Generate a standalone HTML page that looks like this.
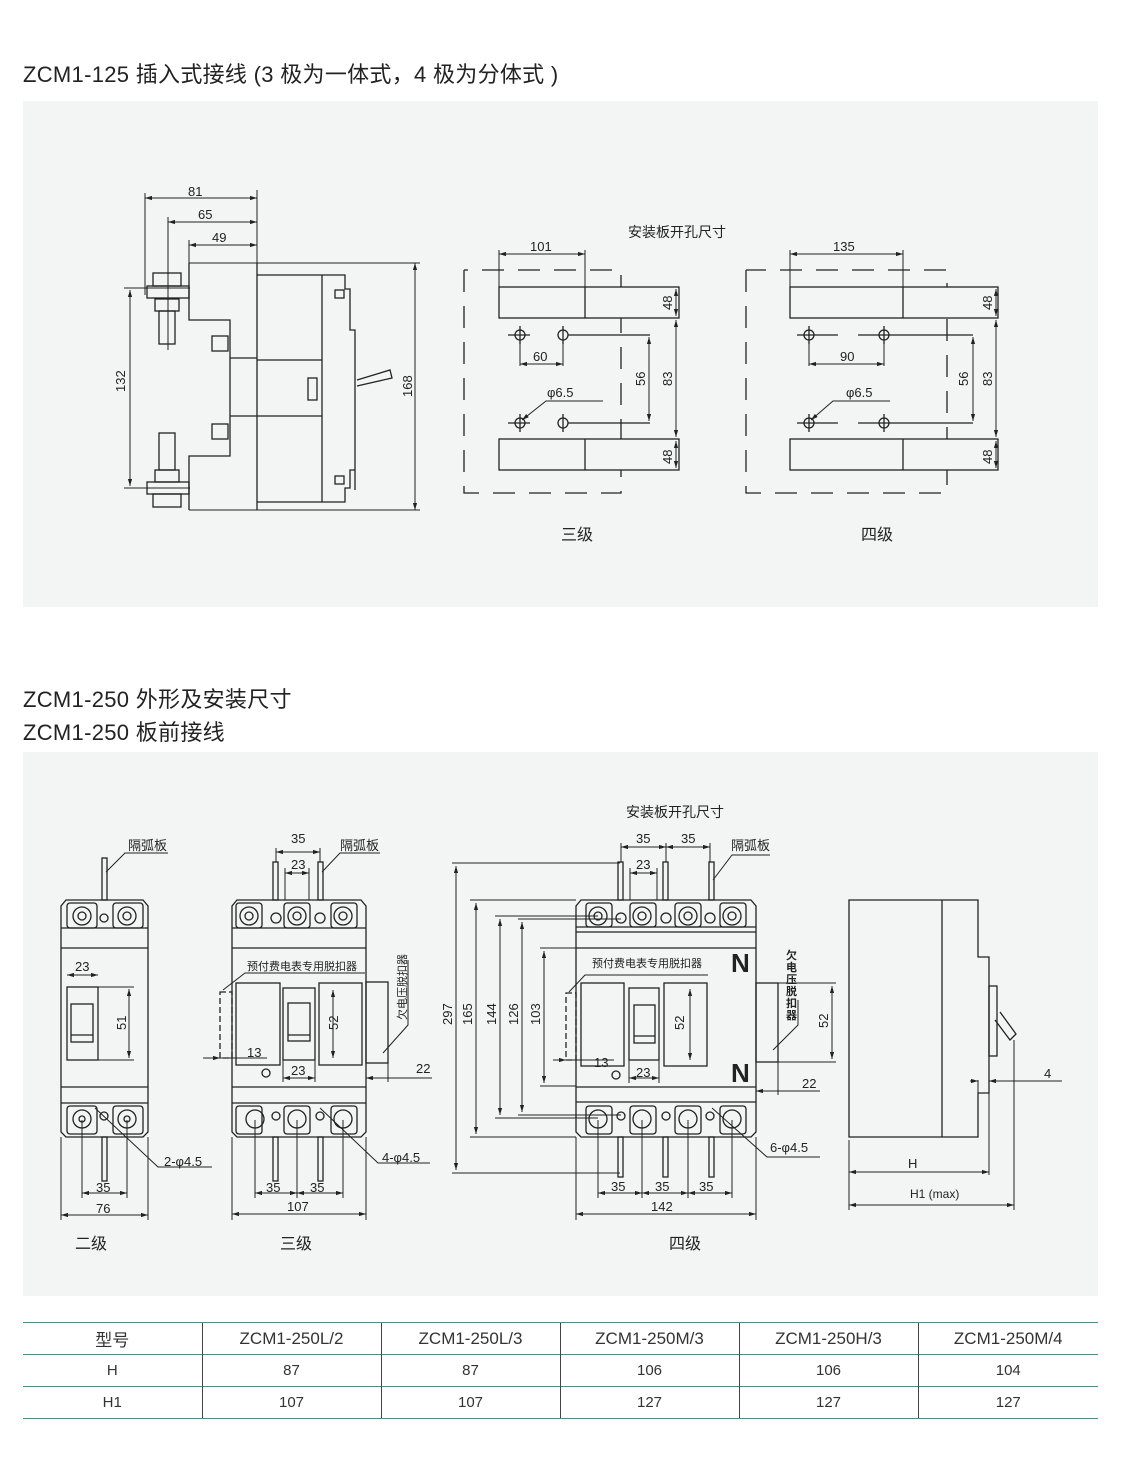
<!DOCTYPE html>
<html><head><meta charset="utf-8"><style>
html,body{margin:0;padding:0;background:#fff;}
body{width:1121px;height:1471px;position:relative;overflow:hidden;font-family:"Liberation Sans","Noto Sans CJK SC",sans-serif;color:#222;}
.h{position:absolute;left:23px;font-size:22px;letter-spacing:0.3px;color:#222;white-space:nowrap;}
.panel{position:absolute;left:23px;width:1075px;background:#f3f4f4;}
table{position:absolute;left:23px;top:1322px;width:1075px;border-collapse:collapse;table-layout:fixed;font-size:15px;color:#333;}
td{height:31px;text-align:center;border-top:1.5px solid #2a9d8f;border-left:1px solid #444;padding:0;}
td:first-child{border-left:none;}
tr:last-child td{border-bottom:1.5px solid #2a9d8f;}
tr:first-child td{font-size:17px;}
</style></head><body>
<div class="h" style="top:57px">ZCM1-125 插入式接线 (3 极为一体式，4 极为分体式 )</div>
<div class="panel" style="top:101px;height:506px"></div>
<div class="h" style="top:682px">ZCM1-250 外形及安装尺寸</div>
<div class="h" style="top:715px">ZCM1-250 板前接线</div>
<div class="panel" style="top:752px;height:544px"></div>
<svg width="1121" height="1471" style="position:absolute;left:0;top:0" font-family="Liberation Sans, Noto Sans CJK SC, sans-serif" font-size="13" fill="none" stroke="#222" stroke-width="1.3">
<defs><marker id="a" viewBox="0 0 10 10" refX="10" refY="5" markerWidth="7" markerHeight="7" orient="auto-start-reverse"><path d="M0,2 L10,5 L0,8z" fill="#222" stroke="none"/></marker></defs>
<g stroke-width="1">
<line x1="145" y1="193" x2="145" y2="295"/><line x1="168" y1="217" x2="168" y2="350"/><line x1="189" y1="240" x2="189" y2="263"/><line x1="257" y1="190" x2="257" y2="263"/>
<line x1="145" y1="198" x2="257" y2="198" marker-start="url(#a)" marker-end="url(#a)"/>
<line x1="168" y1="222" x2="257" y2="222" marker-start="url(#a)" marker-end="url(#a)"/>
<line x1="189" y1="245" x2="257" y2="245" marker-start="url(#a)" marker-end="url(#a)"/>
<line x1="189" y1="263" x2="420" y2="263"/><line x1="189" y1="510" x2="420" y2="510"/>
<line x1="415" y1="263" x2="415" y2="510" marker-start="url(#a)" marker-end="url(#a)"/>
<line x1="124" y1="288" x2="190" y2="288"/><line x1="124" y1="488" x2="190" y2="488"/>
<line x1="130" y1="290" x2="130" y2="486" marker-start="url(#a)" marker-end="url(#a)"/>
</g>
<path d="M189,263 V320 H230 V456 H189 V510 M257,263 V510 M230,358 H257 M230,416 H257 M257,275 H345 V289 H350 V330 H355 V470 H350 V488 H345 V502 H257 M322,275 V502 M257,360 H322 M257,416 H322 M355,330 V490 M357,380 L390,370 L392,378 L357,386"/>
<rect x="147" y="286" width="42" height="12"/><rect x="153" y="273" width="28" height="13"/><rect x="155" y="299" width="24" height="12"/><rect x="159" y="311" width="16" height="33"/>
<rect x="147" y="482" width="42" height="12"/><rect x="153" y="494" width="28" height="13"/><rect x="155" y="470" width="24" height="12"/><rect x="159" y="433" width="16" height="37"/>
<rect x="212" y="336" width="16" height="15"/><rect x="212" y="424" width="16" height="15"/>
<rect x="335" y="290" width="9" height="8"/><rect x="335" y="476" width="9" height="8"/><rect x="308" y="378" width="9" height="22"/>
<g fill="#222" stroke="none" font-size="13"><text x="188" y="196">81</text><text x="198" y="219">65</text><text x="212" y="242">49</text>
<text transform="translate(125,392) rotate(-90)">132</text><text transform="translate(412,397) rotate(-90)">168</text></g>
<g stroke-dasharray="22,14">
<path d="M464,270 V493 H621 V270 H464"/><path d="M746,270 V493 H947 V270 H746"/>
</g>
<rect x="499" y="287" width="180" height="31" fill="#f3f4f4"/><line x1="585" y1="287" x2="585" y2="318"/>
<rect x="499" y="439" width="180" height="31" fill="#f3f4f4"/><line x1="585" y1="439" x2="585" y2="470"/>
<rect x="790" y="287" width="208" height="31" fill="#f3f4f4"/><line x1="903" y1="287" x2="903" y2="318"/>
<rect x="790" y="439" width="208" height="31" fill="#f3f4f4"/><line x1="903" y1="439" x2="903" y2="470"/>
<g stroke-width="1">
<line x1="499" y1="250" x2="499" y2="287"/><line x1="585" y1="250" x2="585" y2="287"/>
<line x1="499" y1="254" x2="585" y2="254" marker-start="url(#a)" marker-end="url(#a)"/>
<line x1="790" y1="250" x2="790" y2="287"/><line x1="903" y1="250" x2="903" y2="287"/>
<line x1="790" y1="254" x2="903" y2="254" marker-start="url(#a)" marker-end="url(#a)"/>
<line x1="676" y1="289" x2="676" y2="316" marker-start="url(#a)" marker-end="url(#a)"/>
<line x1="676" y1="320" x2="676" y2="437" marker-start="url(#a)" marker-end="url(#a)"/>
<line x1="676" y1="441" x2="676" y2="468" marker-start="url(#a)" marker-end="url(#a)"/>
<line x1="996" y1="289" x2="996" y2="316" marker-start="url(#a)" marker-end="url(#a)"/>
<line x1="996" y1="320" x2="996" y2="437" marker-start="url(#a)" marker-end="url(#a)"/>
<line x1="996" y1="441" x2="996" y2="468" marker-start="url(#a)" marker-end="url(#a)"/>
<line x1="649" y1="337" x2="649" y2="421" marker-start="url(#a)" marker-end="url(#a)"/>
<line x1="973" y1="337" x2="973" y2="421" marker-start="url(#a)" marker-end="url(#a)"/>
<line x1="520" y1="341" x2="520" y2="366"/><line x1="563" y1="341" x2="563" y2="366"/>
<line x1="520" y1="364" x2="563" y2="364" marker-start="url(#a)" marker-end="url(#a)"/>
<line x1="809" y1="341" x2="809" y2="366"/><line x1="884" y1="341" x2="884" y2="366"/>
<line x1="809" y1="364" x2="884" y2="364" marker-start="url(#a)" marker-end="url(#a)"/>
<path d="M603,401 H546 L522,420" marker-end="url(#a)"/><path d="M890,401 H833 L811,420" marker-end="url(#a)"/>
</g>
<g>
<circle cx="520" cy="335" r="5"/><circle cx="563" cy="335" r="5"/><circle cx="520" cy="423" r="5"/><circle cx="563" cy="423" r="5"/>
<path d="M508,335 H530 M520,326 V344 M563,326 V344 M568,335 H650 M508,423 H530 M520,414 V432 M563,414 V432 M568,423 H650"/>
<circle cx="809" cy="335" r="5"/><circle cx="884" cy="335" r="5"/><circle cx="809" cy="423" r="5"/><circle cx="884" cy="423" r="5"/>
<path d="M797,335 H838 M809,326 V344 M858,335 H896 M884,326 V344 M889,335 H973 M797,423 H838 M809,414 V432 M858,423 H896 M884,414 V432 M889,423 H973"/>
</g>
<g fill="#222" stroke="none" font-size="13">
<text x="628" y="237" font-size="14">安装板开孔尺寸</text>
<text x="530" y="251">101</text><text x="833" y="251">135</text>
<text x="533" y="361">60</text><text x="840" y="361">90</text>
<text x="547" y="397">φ6.5</text><text x="846" y="397">φ6.5</text>
<text transform="translate(672,310) rotate(-90)">48</text><text transform="translate(672,386) rotate(-90)">83</text><text transform="translate(672,464) rotate(-90)">48</text>
<text transform="translate(645,386) rotate(-90)">56</text>
<text transform="translate(992,310) rotate(-90)">48</text><text transform="translate(992,386) rotate(-90)">83</text><text transform="translate(992,464) rotate(-90)">48</text>
<text transform="translate(968,386) rotate(-90)">56</text>
<text x="561" y="540" font-size="16">三级</text><text x="861" y="540" font-size="16">四级</text>
</g>

<path d="M66,900 H143 L148,906 V1132 L143,1137 H66 L61,1132 V906 Z M61,928 H148 M61,948 H148 M61,1087 H148 M61,1103 H148"/>
<rect x="67" y="903" width="30" height="25" rx="3"/><rect x="113" y="903" width="30" height="25" rx="3"/>
<circle cx="82" cy="916" r="9"/><circle cx="82" cy="916" r="4"/><circle cx="127" cy="916" r="9"/><circle cx="127" cy="916" r="4"/><circle cx="104" cy="918" r="4"/>
<rect x="67" y="1106" width="30" height="28" rx="3"/><rect x="113" y="1106" width="30" height="28" rx="3"/>
<circle cx="82" cy="1119" r="9"/><circle cx="82" cy="1119" r="3"/><circle cx="127" cy="1119" r="9"/><circle cx="127" cy="1119" r="3"/><circle cx="104" cy="1116" r="4"/>
<rect x="67" y="987" width="31" height="73"/><rect x="71" y="1004" width="22" height="38"/><line x1="71" y1="1035" x2="93" y2="1035"/>
<rect x="102" y="858" width="5" height="42"/><rect x="102" y="1137" width="5" height="44"/>
<g stroke-width="1">
<line x1="67" y1="975" x2="98" y2="975" marker-start="url(#a)" marker-end="url(#a)"/>
<line x1="98" y1="987" x2="134" y2="987"/><line x1="98" y1="1060" x2="134" y2="1060"/>
<line x1="129" y1="989" x2="129" y2="1058" marker-start="url(#a)" marker-end="url(#a)"/>
<path d="M106,872 L125,853 H168"/><path d="M95,1108 L158,1167 H212"/>
<line x1="82" y1="1120" x2="82" y2="1198"/><line x1="127" y1="1120" x2="127" y2="1198"/>
<line x1="82" y1="1193" x2="127" y2="1193" marker-start="url(#a)" marker-end="url(#a)"/>
<line x1="61" y1="1137" x2="61" y2="1220"/><line x1="148" y1="1137" x2="148" y2="1220"/>
<line x1="61" y1="1215" x2="148" y2="1215" marker-start="url(#a)" marker-end="url(#a)"/>
</g>
<path d="M237,900 H361 L366,906 V1132 L361,1137 H237 L232,1132 V906 Z M232,928 H366 M232,948 H366 M232,1087 H366 M232,1103 H366"/>
<rect x="236" y="903" width="26" height="25" rx="3"/><rect x="284" y="903" width="26" height="25" rx="3"/><rect x="331" y="903" width="26" height="25" rx="3"/>
<circle cx="249" cy="916" r="9"/><circle cx="249" cy="916" r="4"/><circle cx="297" cy="916" r="9"/><circle cx="297" cy="916" r="4"/><circle cx="343" cy="916" r="9"/><circle cx="343" cy="916" r="4"/>
<circle cx="276" cy="918" r="5"/><circle cx="320" cy="918" r="5"/>
<rect x="236" y="1106" width="26" height="28" rx="3"/><rect x="284" y="1106" width="26" height="28" rx="3"/><rect x="331" y="1106" width="26" height="28" rx="3"/>
<circle cx="255" cy="1119" r="9"/><circle cx="297" cy="1119" r="9"/><circle cx="343" cy="1119" r="9"/><circle cx="276" cy="1116" r="4"/><circle cx="320" cy="1116" r="4"/>
<rect x="236" y="983" width="44" height="82"/><rect x="283" y="988" width="32" height="72"/><rect x="288" y="1003" width="22" height="38"/><line x1="288" y1="1035" x2="310" y2="1035"/>
<rect x="319" y="983" width="43" height="82"/><rect x="366" y="982" width="22" height="81"/>
<rect x="220" y="992" width="12" height="66" stroke-dasharray="6,3"/><circle cx="266" cy="1073" r="4"/>
<rect x="273" y="862" width="5" height="38"/><rect x="318" y="862" width="5" height="38"/>
<rect x="273" y="1137" width="5" height="44"/><rect x="318" y="1137" width="5" height="44"/>
<g stroke-width="1">
<line x1="276" y1="848" x2="276" y2="862"/><line x1="320" y1="848" x2="320" y2="862"/>
<line x1="276" y1="852" x2="320" y2="852" marker-start="url(#a)" marker-end="url(#a)"/>
<line x1="285" y1="868" x2="285" y2="900"/><line x1="309" y1="868" x2="309" y2="900"/>
<line x1="285" y1="873" x2="309" y2="873" marker-start="url(#a)" marker-end="url(#a)"/>
<path d="M322,872 L340,853 H380"/><path d="M223,990 L245,973 H365"/>
<line x1="203" y1="1058" x2="220" y2="1058" marker-end="url(#a)"/><line x1="220" y1="1058" x2="267" y2="1058"/>
<line x1="283" y1="1060" x2="283" y2="1082"/><line x1="315" y1="1060" x2="315" y2="1082"/>
<line x1="283" y1="1078" x2="315" y2="1078" marker-start="url(#a)" marker-end="url(#a)"/>
<line x1="333" y1="990" x2="333" y2="1058" marker-start="url(#a)" marker-end="url(#a)"/>
<path d="M383,1053 L408,1025 V960"/>
<line x1="366" y1="1063" x2="366" y2="1082"/><line x1="388" y1="1063" x2="388" y2="1082"/>
<line x1="366" y1="1078" x2="432" y2="1078" marker-start="url(#a)"/>
<path d="M320,1108 L378,1163 H430"/>
<line x1="255" y1="1120" x2="255" y2="1198"/><line x1="297" y1="1120" x2="297" y2="1198"/><line x1="343" y1="1120" x2="343" y2="1198"/>
<line x1="255" y1="1193" x2="297" y2="1193" marker-start="url(#a)" marker-end="url(#a)"/>
<line x1="297" y1="1193" x2="343" y2="1193" marker-start="url(#a)" marker-end="url(#a)"/>
<line x1="232" y1="1137" x2="232" y2="1220"/><line x1="366" y1="1137" x2="366" y2="1220"/>
<line x1="232" y1="1214" x2="366" y2="1214" marker-start="url(#a)" marker-end="url(#a)"/>
</g>
<path d="M581,900 H751 L756,906 V1132 L751,1137 H581 L576,1132 V906 Z M576,927 H756 M576,932 H756 M576,948 H756 M576,1087 H756 M576,1102 H756"/>
<rect x="586" y="903" width="26" height="24" rx="3"/><rect x="630" y="903" width="26" height="24" rx="3"/><rect x="675" y="903" width="26" height="24" rx="3"/><rect x="720" y="903" width="26" height="24" rx="3"/>
<circle cx="598" cy="916" r="9"/><circle cx="598" cy="916" r="4"/><circle cx="642" cy="916" r="9"/><circle cx="642" cy="916" r="4"/><circle cx="688" cy="916" r="9"/><circle cx="688" cy="916" r="4"/><circle cx="732" cy="916" r="9"/><circle cx="732" cy="916" r="4"/>
<circle cx="621" cy="918" r="5"/><circle cx="666" cy="918" r="5"/><circle cx="710" cy="918" r="5"/>
<rect x="586" y="1106" width="26" height="28" rx="3"/><rect x="630" y="1106" width="26" height="28" rx="3"/><rect x="675" y="1106" width="26" height="28" rx="3"/><rect x="720" y="1106" width="26" height="28" rx="3"/>
<circle cx="598" cy="1119" r="9"/><circle cx="642" cy="1119" r="9"/><circle cx="688" cy="1119" r="9"/><circle cx="732" cy="1119" r="9"/>
<circle cx="621" cy="1116" r="4"/><circle cx="666" cy="1116" r="4"/><circle cx="710" cy="1116" r="4"/>
<rect x="581" y="983" width="43" height="83"/><rect x="629" y="988" width="30" height="72"/><rect x="634" y="1005" width="21" height="38"/><line x1="634" y1="1036" x2="655" y2="1036"/>
<rect x="664" y="983" width="43" height="83"/><rect x="756" y="983" width="22" height="79"/>
<rect x="566" y="993" width="10" height="67" stroke-dasharray="6,3"/><circle cx="616" cy="1075" r="4"/>
<rect x="618" y="862" width="5" height="38"/><rect x="663" y="862" width="5" height="38"/><rect x="709" y="862" width="5" height="38"/>
<rect x="618" y="1137" width="5" height="40"/><rect x="663" y="1137" width="5" height="40"/><rect x="709" y="1137" width="5" height="40"/>
<g stroke-width="1">
<line x1="621" y1="843" x2="621" y2="862"/><line x1="666" y1="843" x2="666" y2="862"/><line x1="710" y1="843" x2="710" y2="862"/>
<line x1="621" y1="847" x2="666" y2="847" marker-start="url(#a)" marker-end="url(#a)"/><line x1="666" y1="847" x2="710" y2="847" marker-start="url(#a)" marker-end="url(#a)"/>
<line x1="630" y1="868" x2="630" y2="900"/><line x1="657" y1="868" x2="657" y2="900"/>
<line x1="630" y1="873" x2="657" y2="873" marker-start="url(#a)" marker-end="url(#a)"/>
<path d="M713,880 L732,855 H770"/><path d="M569,992 L585,975 H708"/>
<line x1="452" y1="863" x2="620" y2="863"/><line x1="452" y1="1173" x2="620" y2="1173"/>
<line x1="456" y1="866" x2="456" y2="1170" marker-start="url(#a)" marker-end="url(#a)"/>
<line x1="470" y1="900" x2="576" y2="900"/><line x1="470" y1="1137" x2="576" y2="1137"/>
<line x1="476" y1="903" x2="476" y2="1134" marker-start="url(#a)" marker-end="url(#a)"/>
<line x1="495" y1="916" x2="598" y2="916"/><line x1="495" y1="1118" x2="598" y2="1118"/>
<line x1="500" y1="919" x2="500" y2="1115" marker-start="url(#a)" marker-end="url(#a)"/>
<line x1="518" y1="919" x2="621" y2="919"/><line x1="518" y1="1115" x2="621" y2="1115"/>
<line x1="522" y1="922" x2="522" y2="1112" marker-start="url(#a)" marker-end="url(#a)"/>
<line x1="540" y1="948" x2="576" y2="948"/><line x1="540" y1="1086" x2="576" y2="1086"/>
<line x1="544" y1="951" x2="544" y2="1083" marker-start="url(#a)" marker-end="url(#a)"/>
<line x1="553" y1="1060" x2="566" y2="1060" marker-end="url(#a)"/><line x1="566" y1="1060" x2="614" y2="1060"/>
<line x1="629" y1="1060" x2="629" y2="1083"/><line x1="659" y1="1060" x2="659" y2="1083"/>
<line x1="629" y1="1078" x2="659" y2="1078" marker-start="url(#a)" marker-end="url(#a)"/>
<line x1="690" y1="989" x2="690" y2="1060" marker-start="url(#a)" marker-end="url(#a)"/>
<path d="M773,1050 L798,1025 V1000"/>
<line x1="756" y1="983" x2="836" y2="983"/><line x1="756" y1="1062" x2="836" y2="1062"/>
<line x1="832" y1="986" x2="832" y2="1059" marker-start="url(#a)" marker-end="url(#a)"/>
<line x1="778" y1="1062" x2="778" y2="1095"/>
<line x1="756" y1="1091" x2="820" y2="1091" marker-start="url(#a)"/>
<path d="M712,1108 L767,1157 H820"/>
<line x1="598" y1="1120" x2="598" y2="1198"/><line x1="642" y1="1120" x2="642" y2="1198"/><line x1="688" y1="1120" x2="688" y2="1198"/><line x1="732" y1="1120" x2="732" y2="1198"/>
<line x1="598" y1="1193" x2="642" y2="1193" marker-start="url(#a)" marker-end="url(#a)"/><line x1="642" y1="1193" x2="688" y2="1193" marker-start="url(#a)" marker-end="url(#a)"/><line x1="688" y1="1193" x2="732" y2="1193" marker-start="url(#a)" marker-end="url(#a)"/>
<line x1="576" y1="1137" x2="576" y2="1220"/><line x1="756" y1="1137" x2="756" y2="1220"/>
<line x1="576" y1="1214" x2="756" y2="1214" marker-start="url(#a)" marker-end="url(#a)"/>
</g>
<path d="M849,900 H978 V957 H989 V1093 H978 V1137 H849 Z M942,900 V1137"/>
<rect x="989" y="986" width="8" height="70"/><path d="M995,1020 L1010,1040 L1016,1034 L1000,1012"/>
<g stroke-width="1">
<line x1="849" y1="1140" x2="849" y2="1210"/><line x1="989" y1="1093" x2="989" y2="1175"/><line x1="1014" y1="1040" x2="1014" y2="1210"/>
<line x1="849" y1="1172" x2="989" y2="1172" marker-start="url(#a)" marker-end="url(#a)"/>
<line x1="849" y1="1205" x2="1014" y2="1205" marker-start="url(#a)" marker-end="url(#a)"/>
<line x1="978" y1="1080" x2="978" y2="1093"/>
<line x1="970" y1="1081" x2="978" y2="1081" marker-end="url(#a)"/><line x1="1062" y1="1081" x2="989" y2="1081" marker-end="url(#a)"/>
</g>
<g fill="#222" stroke="none" font-size="13">
<text x="128" y="850">隔弧板</text><text x="340" y="850">隔弧板</text><text x="731" y="850">隔弧板</text>
<text x="626" y="817" font-size="14">安装板开孔尺寸</text>
<text x="75" y="971">23</text><text transform="translate(126,1030) rotate(-90)">51</text>
<text x="164" y="1166">2-φ4.5</text><text x="96" y="1192">35</text><text x="96" y="1213">76</text>
<text x="291" y="843">35</text><text x="291" y="869">23</text>
<text x="247" y="970" font-size="11">预付费电表专用脱扣器</text>
<text transform="translate(406,1020) rotate(-90)" font-size="11">欠电压脱扣器</text>
<text x="247" y="1057">13</text><text x="291" y="1075">23</text><text transform="translate(338,1030) rotate(-90)">52</text>
<text x="416" y="1073">22</text><text x="382" y="1162">4-φ4.5</text>
<text x="266" y="1192">35</text><text x="310" y="1192">35</text><text x="287" y="1211">107</text>
<text x="636" y="843">35</text><text x="681" y="843">35</text><text x="636" y="869">23</text>
<text x="592" y="967" font-size="11">预付费电表专用脱扣器</text>
<text x="731" y="972" font-size="26" font-weight="bold">N</text><text x="731" y="1082" font-size="26" font-weight="bold">N</text>
<text x="786" y="959" font-size="11" font-weight="bold">欠</text><text x="786" y="971" font-size="11" font-weight="bold">电</text><text x="786" y="983" font-size="11" font-weight="bold">压</text><text x="786" y="995" font-size="11" font-weight="bold">脱</text><text x="786" y="1007" font-size="11" font-weight="bold">扣</text><text x="786" y="1019" font-size="11" font-weight="bold">器</text>
<text x="594" y="1067">13</text><text x="636" y="1077">23</text><text transform="translate(684,1030) rotate(-90)">52</text>
<text transform="translate(828,1028) rotate(-90)">52</text><text x="802" y="1088">22</text><text x="770" y="1152">6-φ4.5</text>
<text transform="translate(452,1025) rotate(-90)">297</text><text transform="translate(472,1025) rotate(-90)">165</text><text transform="translate(496,1025) rotate(-90)">144</text><text transform="translate(518,1025) rotate(-90)">126</text><text transform="translate(540,1025) rotate(-90)">103</text>
<text x="611" y="1191">35</text><text x="655" y="1191">35</text><text x="699" y="1191">35</text><text x="651" y="1211">142</text>
<text x="908" y="1168">H</text><text x="910" y="1198" font-size="12">H1 (max)</text><text x="1044" y="1078">4</text>
<text x="75" y="1249" font-size="16">二级</text><text x="280" y="1249" font-size="16">三级</text><text x="669" y="1249" font-size="16">四级</text>
</g>
</svg>
<table>
<colgroup><col style="width:179px"><col style="width:179px"><col style="width:179px"><col style="width:179px"><col style="width:179px"><col style="width:180px"></colgroup>
<tr><td>型号</td><td>ZCM1-250L/2</td><td>ZCM1-250L/3</td><td>ZCM1-250M/3</td><td>ZCM1-250H/3</td><td>ZCM1-250M/4</td></tr>
<tr><td>H</td><td>87</td><td>87</td><td>106</td><td>106</td><td>104</td></tr>
<tr><td>H1</td><td>107</td><td>107</td><td>127</td><td>127</td><td>127</td></tr>
</table>
</body></html>
